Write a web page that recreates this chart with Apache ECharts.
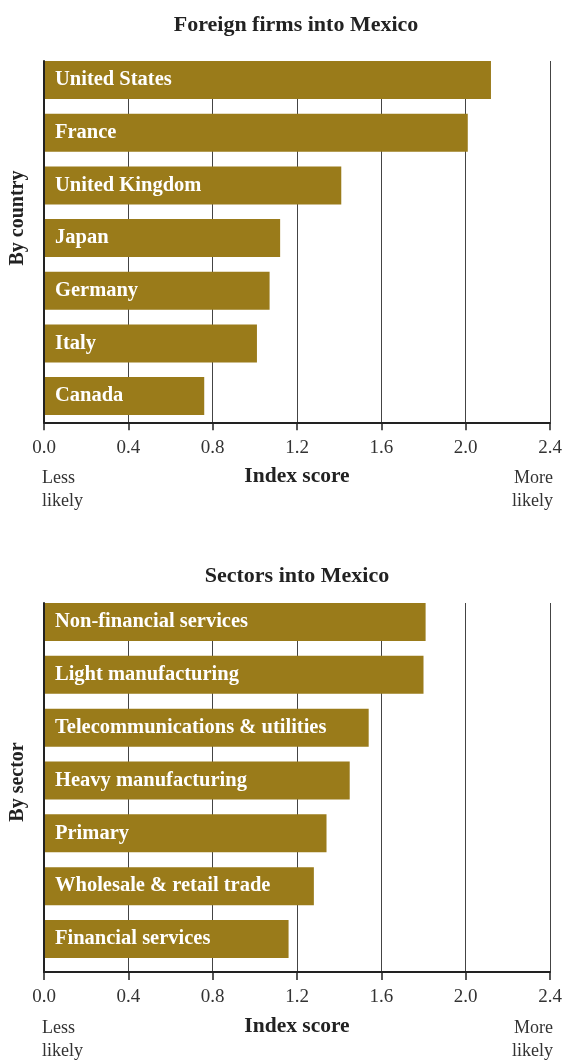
<!DOCTYPE html>
<html>
<head>
<meta charset="utf-8">
<title>Foreign firms and sectors into Mexico</title>
<script src="https://cdn.jsdelivr.net/npm/echarts@6/dist/echarts.min.js"></script>
<style>
  html, body { margin: 0; padding: 0; background: #ffffff; }
  #chart { width: 565px; height: 1061px; }
</style>
</head>
<body>
<div id="chart"></div>
<script>
// Index scores, listed top to bottom as drawn
const countries = ['United States', 'France', 'United Kingdom', 'Japan', 'Germany', 'Italy', 'Canada'];
const countryScores = [2.12, 2.01, 1.41, 1.12, 1.07, 1.01, 0.76];

const sectors = ['Non-financial services', 'Light manufacturing', 'Telecommunications & utilities',
  'Heavy manufacturing', 'Primary', 'Wholesale & retail trade', 'Financial services'];
const sectorScores = [1.81, 1.80, 1.54, 1.45, 1.34, 1.28, 1.16];

const xTicks = ['0.0', '0.4', '0.8', '1.2', '1.6', '2.0', '2.4'];
const xMin = 0, xMax = 2.4, xStep = 0.4;

const FONT = '"Liberation Serif", "DejaVu Serif", serif';
const BAR = '#9A7B1A';
const INK = '#222222';

const chart = echarts.init(document.getElementById('chart'), null, { renderer: 'canvas' });

// Each panel uses a "frame" grid (axis line, ticks, gridlines) and a "bars" grid
// that is slightly taller so the bands sit evenly while gridlines start at the first bar.
const panels = [
  { frameTop: 61, frameH: 361.3, barTop: 53.7, barH: 368.7, cats: countries, vals: countryScores },
  { frameTop: 603, frameH: 369, barTop: 595.6, barH: 369.8, cats: sectors, vals: sectorScores }
];

const grid = [], xAxis = [], yAxis = [], series = [];
panels.forEach((p, i) => {
  const f = i * 2, b = i * 2 + 1;
  grid.push({ left: 44, width: 506, top: p.frameTop, height: p.frameH, containLabel: false });
  grid.push({ left: 44, width: 506, top: p.barTop, height: p.barH, containLabel: false });

  xAxis.push({
    gridIndex: f, type: 'value', min: xMin, max: xMax, interval: xStep,
    axisLine: { show: true, lineStyle: { color: INK, width: 2 } },
    axisTick: { show: true, length: 8, lineStyle: { color: INK, width: 1.5 } },
    axisLabel: {
      margin: 16, color: '#333', fontFamily: FONT, fontSize: 19,
      formatter: v => xTicks[Math.round((v - xMin) / xStep)]
    },
    splitLine: { show: true, lineStyle: { color: '#444', width: 1 } }
  });
  xAxis.push({ gridIndex: b, type: 'value', min: xMin, max: xMax, show: false });

  yAxis.push({
    gridIndex: f, type: 'category', data: p.cats, inverse: true, z: 3,
    axisLine: { show: true, onZero: false, lineStyle: { color: INK, width: 2 } },
    axisTick: { show: false }, axisLabel: { show: false }, splitLine: { show: false }
  });
  yAxis.push({ gridIndex: b, type: 'category', data: p.cats, inverse: true, show: false });

  series.push({
    type: 'bar', xAxisIndex: b, yAxisIndex: b, data: p.vals, barWidth: 38,
    itemStyle: { color: BAR },
    label: {
      show: true, position: 'insideLeft', distance: 11, formatter: '{b}',
      color: '#ffffff', fontFamily: FONT, fontSize: 20.5, fontWeight: 'bold'
    },
    emphasis: { disabled: true }, silent: true, animation: false
  });
});

function txt(text, x, y, opts) {
  return Object.assign({
    type: 'text', x: x, y: y, silent: true,
    style: Object.assign({
      text: text, fill: INK, fontFamily: FONT, fontSize: 20, fontWeight: 'bold',
      textAlign: 'center', textVerticalAlign: 'middle'
    }, opts || {})
  });
}
function rot(el) { el.rotation = Math.PI / 2; return el; }

const sideNote = { fontWeight: 'normal', fontSize: 18, lineHeight: 23, fill: '#333' };

const graphic = [
  txt('Foreign firms into Mexico', 296, 25, { fontSize: 22 }),
  rot(txt('By country', 18, 218)),
  txt('Index score', 297, 476, { fontSize: 21.5 }),
  txt('Less\nlikely', 42, 490, Object.assign({ textAlign: 'left' }, sideNote)),
  txt('More\nlikely', 553, 490, Object.assign({ textAlign: 'right' }, sideNote)),

  txt('Sectors into Mexico', 297, 576, { fontSize: 22 }),
  rot(txt('By sector', 18, 782)),
  txt('Index score', 297, 1026, { fontSize: 21.5 }),
  txt('Less\nlikely', 42, 1040, Object.assign({ textAlign: 'left' }, sideNote)),
  txt('More\nlikely', 553, 1040, Object.assign({ textAlign: 'right' }, sideNote))
];

chart.setOption({
  animation: false,
  backgroundColor: '#ffffff',
  grid: grid, xAxis: xAxis, yAxis: yAxis, series: series, graphic: graphic
});
</script>
</body>
</html>
